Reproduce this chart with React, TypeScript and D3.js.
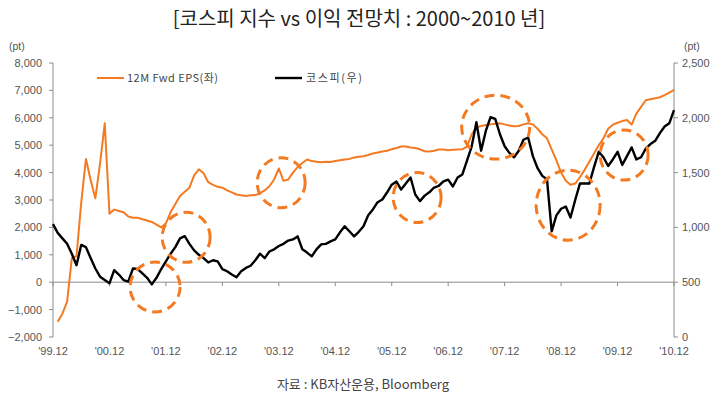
import React from 'react';
import * as d3 from 'd3';

// monthly, index 0 = '99.12 ... index 132 = '10.12
const xLabels = ["'99.12", "'00.12", "'01.12", "'02.12", "'03.12", "'04.12", "'05.12", "'06.12", "'07.12", "'08.12", "'09.12", "'10.12"];
const leftTicks = [-2000, -1000, 0, 1000, 2000, 3000, 4000, 5000, 6000, 7000, 8000];
const rightTicks = [0, 500, 1000, 1500, 2000, 2500];

// 12M Fwd EPS (left axis)
const epsValues: (number | null)[] = [
  null,
  -1440, -1150, -710, 880, 950, 2900, 4500, 3730, 3060, 4340, 5800, 2500,
  2650, 2600, 2550, 2400, 2350, 2350, 2300, 2250, 2200, 2100, 2000, 2150,
  2550, 2850, 3150, 3300, 3450, 3900, 4120, 3980, 3650, 3550, 3480, 3450,
  3350, 3280, 3200, 3170, 3150, 3170, 3180, 3250, 3350, 3500, 3750, 4150,
  3700, 3750, 4000, 4200, 4350, 4480, 4420, 4400, 4380, 4400, 4390, 4420,
  4450, 4480, 4500, 4550, 4580, 4600, 4640, 4700, 4730, 4770, 4800, 4850,
  4900, 4950, 4950, 4920, 4900, 4850, 4780, 4770, 4800, 4840, 4840, 4820,
  4830, 4840, 4850, 4950, 5400, 5650, 5700, 5740, 5760, 5780, 5800, 5760,
  5720, 5690, 5700, 5760, 5800, 5760, 5600, 5400, 5250, 4850, 4450, 4000,
  3700, 3560, 3600, 3830, 4100, 4400, 4700, 5000, 5250, 5600, 5750, 5820,
  5880, 5920, 5750, 6150, 6400, 6640, 6680, 6710, 6750, 6830, 6920, 7020,
];

// KOSPI (right axis)
const kospiValues: number[] = [
  1030,
  950, 900, 850, 760, 655, 840, 820, 720, 625, 550, 520, 490,
  610, 570, 520, 505, 625, 620, 580, 540, 480, 540, 620, 690,
  760, 820, 900, 920, 850, 790, 750, 720, 680, 700, 690, 620,
  600, 570, 545, 600, 630, 650, 700, 760, 720, 780, 800, 830,
  850, 880, 890, 918, 800, 770, 736, 800, 845, 850, 873, 890,
  955, 1010, 965, 918, 960, 1010, 1110, 1164, 1230, 1255, 1318, 1390,
  1418, 1345, 1400, 1455, 1300, 1240, 1290, 1320, 1364, 1380, 1420, 1436,
  1373, 1455, 1482, 1610, 1740, 1960, 1700, 1880, 2005, 1990, 1850, 1740,
  1680, 1640, 1700, 1800, 1820, 1650, 1540, 1470, 1440, 964, 1110, 1170,
  1190, 1090, 1250, 1400, 1400, 1400, 1550, 1690, 1640, 1560, 1620, 1690,
  1570, 1650, 1730, 1620, 1640, 1720, 1760, 1790, 1860, 1920, 1950, 2070,
];

// highlighted regions (month index, left-axis value)
const highlights = [
  { m: 21.7, v: -175, rx: 25, ry: 25 },
  { m: 28.3, v: 1640, rx: 24, ry: 25 },
  { m: 48.5, v: 3630, rx: 24, ry: 25 },
  { m: 77.4, v: 3090, rx: 24, ry: 25 },
  { m: 94.1, v: 5660, rx: 34, ry: 32 },
  { m: 109.5, v: 2810, rx: 32, ry: 35 },
  { m: 121.4, v: 4640, rx: 24, ry: 25 },
];

const ORANGE = '#F47A22';
const AXIS = '#8c8c8c';
const TXT = '#555';
const NUM_FONT = '"Liberation Sans", Arial, sans-serif';
const KR_FONT = '"Noto Sans CJK KR", "Noto Sans", sans-serif';

export default function App() {
  const W = 721, H = 399;
  const x = d3.scaleLinear().domain([0, 132]).range([53, 674]);
  const yL = d3.scaleLinear().domain([-2000, 8000]).range([337, 63]);
  const yR = d3.scaleLinear().domain([0, 2500]).range([337, 63]);

  const epsLine = d3.line<number | null>()
    .defined(d => d !== null)
    .x((_, i) => x(i))
    .y(d => yL(d as number));
  const kospiLine = d3.line<number>()
    .x((_, i) => x(i))
    .y(d => yR(d));

  const y0 = yL(0);

  return (
    <div style={{ position: 'fixed', left: 0, top: 0, width: W, height: H, background: '#fff' }}>
      <svg width={W} height={H} style={{ display: 'block' }}>
        <text x={359} y={26} textAnchor="middle" fontFamily={KR_FONT} fontSize={20} fill="#222">
          [코스피 지수 vs 이익 전망치 : 2000~2010 년]
        </text>

        {/* unit labels */}
        <text x={9} y={50} fontFamily={NUM_FONT} fontSize={10.5} fill={TXT}>(pt)</text>
        <text x={684} y={50} fontFamily={NUM_FONT} fontSize={10.5} fill={TXT}>(pt)</text>

        {/* left axis */}
        <line x1={53} x2={53} y1={yL(8000)} y2={yL(-2000)} stroke={AXIS} />
        {leftTicks.map(t => (
          <g key={'l' + t}>
            <line x1={49} x2={53} y1={yL(t)} y2={yL(t)} stroke={AXIS} />
            <text x={42} y={yL(t) + 4} textAnchor="end" fontFamily={NUM_FONT} fontSize={11} fill={TXT}>
              {d3.format(',')(t)}
            </text>
          </g>
        ))}

        {/* right axis */}
        <line x1={674} x2={674} y1={yR(2500)} y2={yR(0)} stroke={AXIS} />
        {rightTicks.map(t => (
          <g key={'r' + t}>
            <line x1={674} x2={678} y1={yR(t)} y2={yR(t)} stroke={AXIS} />
            <text x={682} y={yR(t) + 4} fontFamily={NUM_FONT} fontSize={11} fill={TXT}>
              {d3.format(',')(t)}
            </text>
          </g>
        ))}

        {/* zero line + x ticks */}
        <line x1={53} x2={674} y1={y0} y2={y0} stroke={AXIS} />
        {xLabels.map((lab, i) => (
          <g key={lab}>
            <line x1={x(i * 12)} x2={x(i * 12)} y1={y0} y2={y0 + 4} stroke={AXIS} />
            <text x={x(i * 12)} y={355} textAnchor="middle" fontFamily={NUM_FONT} fontSize={11} fill={TXT}>
              {lab}
            </text>
          </g>
        ))}

        {/* series */}
        <path d={epsLine(epsValues) || ''} fill="none" stroke={ORANGE} strokeWidth={2} strokeLinejoin="round" />
        <path d={kospiLine(kospiValues) || ''} fill="none" stroke="#000" strokeWidth={2.4} strokeLinejoin="round" />

        {/* dashed highlight circles */}
        {highlights.map((h, i) => (
          <ellipse key={i} cx={x(h.m)} cy={yL(h.v)} rx={h.rx} ry={h.ry}
            fill="none" stroke={ORANGE} strokeWidth={3} strokeDasharray="10,6" />
        ))}

        {/* legend */}
        <line x1={97} x2={124} y1={78} y2={78} stroke={ORANGE} strokeWidth={2} />
        <text x={127} y={82} fontFamily={KR_FONT} fontSize={11} fill="#444" textLength={91} lengthAdjust="spacing">12M Fwd EPS(좌)</text>
        <line x1={275} x2={302} y1={78} y2={78} stroke="#000" strokeWidth={2.4} />
        <text x={306} y={82} fontFamily={KR_FONT} fontSize={11} fill="#444" textLength={56} lengthAdjust="spacing">코스피(우)</text>

        <text x={363} y={389} textAnchor="middle" fontFamily={KR_FONT} fontSize={13} fill="#444">
          자료 : KB자산운용, Bloomberg
        </text>
      </svg>
    </div>
  );
}
